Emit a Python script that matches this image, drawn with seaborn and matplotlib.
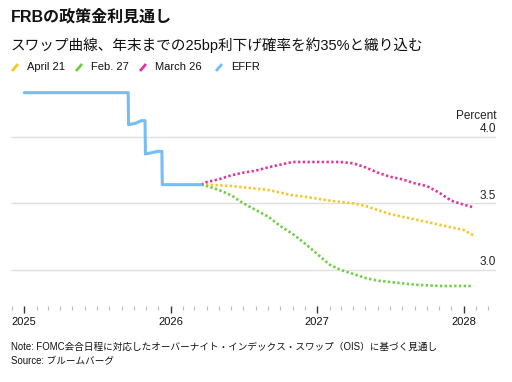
import pandas as pd
import matplotlib.pyplot as plt
import matplotlib.dates as mdates
from matplotlib.lines import Line2D
import seaborn as sns

# effective fed funds rate (actual)
effr_dates = ["2025-01-01", "2025-09-17", "2025-09-18", "2025-10-05", "2025-10-20", "2025-10-29",
              "2025-10-30", "2025-11-15", "2025-12-01", "2025-12-10", "2025-12-11", "2026-03-18"]
effr_vals = [4.33, 4.33, 4.09, 4.10, 4.12, 4.12, 3.87, 3.88, 3.89, 3.89, 3.64, 3.64]

# OIS-implied paths
fc_dates = ["2026-03-18", "2026-04-01", "2026-05-01", "2026-06-01", "2026-07-01", "2026-08-01",
            "2026-09-01", "2026-10-01", "2026-11-01", "2026-12-01", "2027-01-01", "2027-02-01",
            "2027-03-01", "2027-04-01", "2027-05-01", "2027-06-01", "2027-07-01", "2027-08-01",
            "2027-09-01", "2027-10-01", "2027-11-01", "2027-12-01", "2028-01-01", "2028-01-25"]
april21 = [3.64, 3.64, 3.635, 3.63, 3.62, 3.61, 3.60, 3.58, 3.56, 3.55, 3.535, 3.52,
           3.51, 3.50, 3.48, 3.45, 3.42, 3.40, 3.38, 3.36, 3.34, 3.32, 3.30, 3.26]
feb27 = [3.64, 3.63, 3.60, 3.56, 3.50, 3.45, 3.40, 3.33, 3.27, 3.20, 3.12, 3.04,
         3.00, 2.97, 2.94, 2.92, 2.91, 2.90, 2.89, 2.885, 2.88, 2.88, 2.88, 2.88]
march26 = [3.64, 3.66, 3.68, 3.71, 3.73, 3.745, 3.77, 3.79, 3.81, 3.81, 3.81, 3.81,
           3.81, 3.80, 3.77, 3.73, 3.70, 3.68, 3.65, 3.63, 3.58, 3.52, 3.49, 3.47]

series_names = ["April 21", "Feb. 27", "March 26", "EFFR"]
colors = ["#f7c72a", "#6fcf45", "#e0379f", "#76bdf6"]
yticks = [3.0, 3.5, 4.0]
xticks = ["2025", "2026", "2027", "2028"]

sns.set_theme(style="white")
fam = ["Liberation Sans", "Noto Sans CJK JP", "DejaVu Sans"]
plt.rcParams["font.family"] = fam

fig = plt.figure(figsize=(5.12, 3.82), dpi=100)
ax = fig.add_axes([0.0215, 0.199, 0.9475, 0.578])

for v in yticks:
    ax.axhline(v, color="#e0e0e0", lw=1, zorder=0)

fc = pd.to_datetime(fc_dates)
for name, vals, c in zip(series_names[:3], [april21, feb27, march26], colors[:3]):
    sns.lineplot(x=fc, y=vals, ax=ax, color=c, lw=1.9, linestyle=(0, (0.9, 0.9)))
sns.lineplot(x=pd.to_datetime(effr_dates), y=effr_vals, ax=ax, color=colors[3], lw=2.2,
             sort=False, estimator=None)

ax.set_xlim(pd.Timestamp("2024-11-29"), pd.Timestamp("2028-03-22"))
ax.set_ylim(2.73, 4.386)
sns.despine(ax=ax, left=True, bottom=True, right=True, top=True)
ax.set_yticks([])
ax.set_xlabel("")
ax.set_ylabel("")

ax.set_xticks(pd.to_datetime([t + "-01-01" for t in xticks]))
ax.set_xticklabels(xticks)
ax.xaxis.set_minor_locator(mdates.MonthLocator())
ax.tick_params(axis="x", which="major", bottom=True, length=5, width=1, color="#333333",
               labelsize=8, pad=3, labelcolor="#111111")
ax.tick_params(axis="x", which="minor", bottom=True, length=3, width=0.8, color="#bbbbbb")

tr = ax.get_yaxis_transform()
for v in yticks:
    ax.text(1.0, v + 0.012, f"{v:.1f}", transform=tr, ha="right", va="bottom",
            fontsize=8.5, color="#222222")
ax.text(1.0, 4.0 + 0.11, "Percent", transform=tr, ha="right", va="bottom",
        fontsize=8.5, color="#222222")

# titles
fig.text(0.0215, 1 - 17 / 382, "FRBの政策金利見通し", fontsize=11.5, fontweight="bold",
         va="center", ha="left", color="#111111")
fig.text(0.0215, 1 - 45 / 382, "スワップ曲線、年末までの25bp利下げ確率を約35%と織り込む",
         fontsize=10.5, va="center", ha="left", color="#111111")

# legend
leg_x = [12, 76, 140, 216]
for name, c, lx in zip(series_names, colors, leg_x):
    fig.add_artist(Line2D([lx / 512, (lx + 6) / 512], [1 - 71 / 382, 1 - 64 / 382],
                          color=c, lw=2, solid_capstyle="butt"))
    fig.text((lx + 15) / 512, 1 - 67.5 / 382, name, fontsize=8, va="center", ha="left",
             color="#111111")

fig.text(0.0215, 1 - 347 / 382,
         "Note: FOMC会合日程に対応したオーバーナイト・インデックス・スワップ（OIS）に基づく見通し",
         fontsize=6.9, va="center", ha="left", color="#111111")
fig.text(0.0215, 1 - 361 / 382, "Source: ブルームバーグ", fontsize=6.9, va="center", ha="left",
         color="#111111")

fig.savefig("out.png", dpi=100)
